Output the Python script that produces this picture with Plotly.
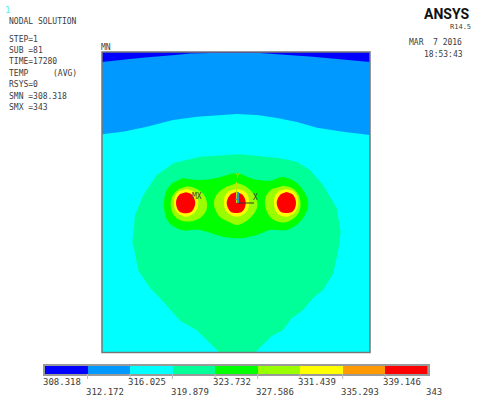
import plotly.graph_objects as go

# Colour legend
levels = [308.318, 312.172, 316.025, 319.879, 323.732, 327.586, 331.439, 335.293, 339.146, 343]
level_labels = ["308.318", "312.172", "316.025", "319.879", "323.732", "327.586", "331.439", "335.293", "339.146", "343"]
level_colors = ["#0000FF", "#0099FF", "#00FFFF", "#00FF99", "#00FF00", "#99FF00", "#FFFF00", "#FF9900", "#FF0000"]

# Contour outlines
frame_x = [102, 370, 370, 102]
frame_y = [52, 52, 352.5, 352.5]

blue_x = [102, 370, 370, 343, 317, 297, 277, 257, 237, 217, 197, 173, 147, 123, 102]
blue_y = [52, 52, 135, 131.7, 127.7, 122, 118, 115, 114, 115, 116.7, 120, 126.7, 131.7, 134.3]

navy_x = [102, 370, 370, 350, 330, 310, 295, 275, 260, 210, 190, 175, 160, 145, 130, 115, 102]
navy_y = [52, 52, 62, 60, 58, 56.5, 55.5, 54, 53, 53, 53.5, 55, 56, 57.5, 59, 60.5, 62]

teal_x = [240, 260, 280, 296.7, 310, 323, 336.7, 340.7, 338.3, 333.3, 323, 313, 303, 291.7, 283, 271.7, 255,
          219.3, 196.7, 180, 161.7, 150, 138.3, 134.3, 132.3, 135, 143.3, 156.7, 173.3, 200, 226.7]
teal_y = [154.3, 156, 158.3, 161.7, 170, 185, 208, 231.7, 250, 273.3, 290, 298, 310, 318.3, 330, 336, 352.5,
          352.5, 330, 320.7, 300, 288, 270.7, 250, 243.3, 215, 195, 175, 163.3, 156.7, 155]

green_x = [183, 200, 216.7, 236.7, 253, 270, 283, 296.7, 306.7, 308, 300, 286.7, 270, 256.7, 240, 220, 200,
           181.7, 168.3, 164, 166.7, 173]
green_y = [178, 180, 178, 173.3, 179, 180.7, 177, 183, 196.7, 206.7, 221.7, 230, 230, 235, 238.3, 236, 230,
           230, 221.7, 206.7, 190, 182.7]

lime_left_x = [187, 197, 204, 207, 206, 200, 190, 180, 173, 170.7, 173, 179]
lime_left_y = [186.3, 189, 195, 203, 211, 218, 221.5, 220, 214, 204, 195, 189]
lime_mid_x = [237, 245, 252, 257, 257, 252, 245, 237, 229, 220, 215, 214, 218, 226]
lime_mid_y = [183, 186, 192, 201, 208, 216, 222, 225, 222, 217, 209, 201, 193, 187]
lime_right_x = [283, 292, 298, 300.5, 299, 293, 283, 274, 268, 265, 266, 272]
lime_right_y = [185.7, 188, 194, 203, 212, 219, 222.5, 220, 214, 204, 196, 189]

yellow_left_x = [186, 193, 197, 198.3, 197, 193, 186, 179, 175, 174, 175, 179]
yellow_left_y = [189, 191, 196, 203, 209, 214, 216.7, 214, 209, 203, 196, 191]
yellow_mid_x = [236.5, 244, 248, 249, 248, 244, 236.5, 229, 225, 224, 225, 229]
yellow_mid_y = [189, 191, 196, 203, 209, 214, 216.7, 214, 209, 203, 196, 191]
yellow_right_x = [286, 293, 297, 298.3, 297, 293, 286, 278, 275, 274, 275, 279]
yellow_right_y = [189, 191, 196, 203, 209, 214, 216.7, 214, 209, 203, 196, 191]

red_left_x = [185.7, 191, 194, 195.3, 194, 191, 185.7, 180, 177, 176, 177, 180]
red_left_y = [192.3, 194, 198, 203, 208, 212, 213.3, 212, 208, 203, 198, 194]
red_mid_x = [236, 241.5, 244.7, 245.7, 244.7, 241.5, 236, 231, 228, 226.7, 228, 231]
red_mid_y = [192, 194, 198, 203, 208, 212, 213, 212, 208, 203, 198, 194]
red_right_x = [286.3, 292, 295, 296, 295, 292, 286.3, 281, 278, 276.7, 278, 281]
red_right_y = [192, 194, 198, 203, 208, 212, 213, 212, 208, 203, 198, 194]

header_lines = ["NODAL SOLUTION", "STEP=1", "SUB =81", "TIME=17280", "TEMP", "RSYS=0", "SMN =308.318", "SMX =343"]
header_y = [21, 39, 50, 61, 73, 84, 96, 107]

TEXT = "#3c3c3c"
MONO = "DejaVu Sans Mono"

fig = go.Figure()


def band(x, y, color, smooth=False):
    fig.add_trace(go.Scatter(
        x=x, y=y, mode="lines", fill="toself", fillcolor=color,
        line=dict(width=0, color=color, shape="spline" if smooth else "linear"),
        hoverinfo="skip", showlegend=False, xaxis="x", yaxis="y"))


band(frame_x, frame_y, "#00FFFF")
band(blue_x, blue_y, "#0099FF")
band(navy_x, navy_y, "#0000FF")
band(teal_x, teal_y, "#00FF99")
band(green_x, green_y, "#00FF00", True)
band(lime_left_x, lime_left_y, "#99FF00", True)
band(lime_mid_x, lime_mid_y, "#99FF00", True)
band(lime_right_x, lime_right_y, "#99FF00", True)
band(yellow_left_x, yellow_left_y, "#FFFF00", True)
band(yellow_mid_x, yellow_mid_y, "#FFFF00", True)
band(yellow_right_x, yellow_right_y, "#FFFF00", True)
band(red_left_x, red_left_y, "#FF0000", True)
band(red_mid_x, red_mid_y, "#FF0000", True)
band(red_right_x, red_right_y, "#FF0000", True)

# Legend strip on its own temperature axis
fig.add_trace(go.Bar(
    y=[0] * 9, x=[b - a for a, b in zip(levels[:-1], levels[1:])], base=levels[:-1],
    orientation="h", width=1, marker=dict(color=level_colors, line=dict(width=0)),
    hoverinfo="skip", showlegend=False, xaxis="x2", yaxis="y2"))

shapes = [
    dict(type="rect", xref="x", yref="y", x0=102, x1=370, y0=52, y1=352.5,
         line=dict(color="#777777", width=1.5), layer="above"),
    dict(type="line", xref="x", yref="y", x0=237, x1=254, y0=203, y1=203,
         line=dict(color="#333333", width=1), layer="above"),
    dict(type="line", xref="x", yref="y", x0=236.5, x1=236.5, y0=203, y1=182,
         line=dict(color="#BFE000", width=1), layer="above"),
    dict(type="line", xref="x", yref="y", x0=238, x1=238, y0=192, y1=203,
         line=dict(color="#2F9FC0", width=2), layer="above"),
]
for v in levels[1:-1]:
    shapes.append(dict(type="line", xref="x2", yref="paper", x0=v, x1=v,
                       y0=1 - 374 / 407, y1=1 - 379 / 407, line=dict(color="#bbbbbb", width=1)))


def label(x, y, text, size=8, color=TEXT, family=MONO, anchor="left", xref="x", weight="normal"):
    return dict(x=x, y=y, xref=xref, yref="y", text=text, showarrow=False, xanchor=anchor, yanchor="middle",
                xshift=-2, font=dict(size=size, color=color, family=family, weight=weight))


ann = [label(9, yy, t) for t, yy in zip(header_lines, header_y)]
ann += [
    label(53, 73, "(AVG)"),
    label(5, 10, "1", size=9, color="#55EEEE"),
    label(101, 47, "MN", size=8),
    label(192, 196, "MX", size=8),
    label(253, 197, "X", size=8),
    label(235, 176, "Y", size=7, color="#BFE000"),
    label(235, 197, "Z", size=6, color="#2F7FD0"),
    label(424, 14, "ANSYS", size=14, color="#111111", family="Roboto", weight="bold"),
    label(450, 27, "R14.5", size=7),
    label(409, 42, "MAR"),
    label(433, 42, "7 2016"),
    label(424, 54, "18:53:43"),
]
for i, (v, t) in enumerate(zip(levels, level_labels)):
    ann.append(dict(x=v, y=382 if i % 2 == 0 else 392, xref="x2", yref="y", text=t, showarrow=False,
                    xanchor="left", yanchor="middle", xshift=-4,
                    font=dict(size=9, color=TEXT, family=MONO)))

fig.update_layout(
    width=480, height=407, margin=dict(l=0, r=0, t=0, b=0), autosize=False,
    paper_bgcolor="white", plot_bgcolor="white", showlegend=False, barmode="overlay", bargap=0,
    xaxis=dict(range=[0, 480], domain=[0, 1], visible=False, fixedrange=True),
    yaxis=dict(range=[407, 0], domain=[0, 1], visible=False, fixedrange=True),
    xaxis2=dict(range=[308.318, 343], domain=[45 / 480, 427.7 / 480], anchor="y2", showticklabels=False,
                ticks="", showgrid=False, zeroline=False, showline=True, mirror=True,
                linecolor="#9a9a9a", linewidth=2, fixedrange=True),
    yaxis2=dict(range=[-0.5, 0.5], domain=[1 - 374 / 407, 1 - 366 / 407], anchor="x2", showticklabels=False,
                ticks="", showgrid=False, zeroline=False, showline=True, mirror=True,
                linecolor="#9a9a9a", linewidth=2, fixedrange=True),
    shapes=shapes, annotations=ann,
)
fig.write_html("out.html", config={"displayModeBar": False},
               post_script="document.body.style.margin='0';document.body.style.overflow='hidden';")
